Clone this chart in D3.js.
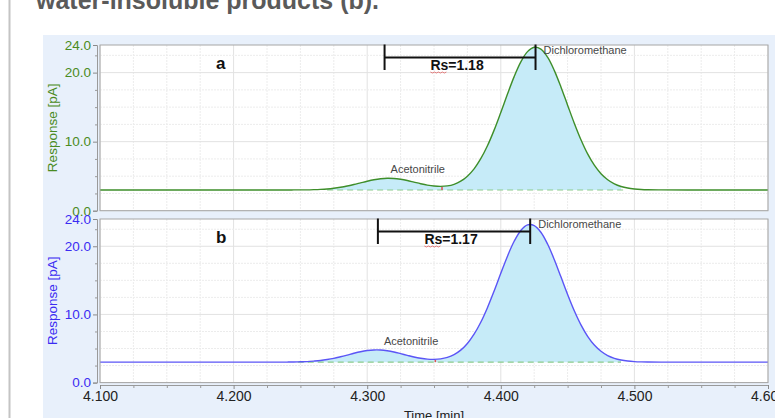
<!DOCTYPE html>
<html>
<head>
<meta charset="utf-8">
<script src="https://cdn.jsdelivr.net/npm/d3@7"></script>
<style>
  html, body { margin: 0; padding: 0; background: #ffffff; }
  svg { display: block; font-family: "Liberation Sans", Arial, sans-serif; }
</style>
</head>
<body>
<svg id="chart" width="775" height="418"></svg>
<script>
// Retention time axis (min)
const times = [
  4.100, 4.150, 4.200, 4.220,
  4.240, 4.245, 4.250, 4.255, 4.260, 4.265, 4.270, 4.275, 4.280, 4.285,
  4.290, 4.295, 4.300, 4.305, 4.310, 4.315, 4.320, 4.325, 4.330, 4.335,
  4.340, 4.345, 4.350, 4.355, 4.360, 4.365, 4.370, 4.375, 4.380, 4.385,
  4.390, 4.395, 4.400, 4.405, 4.410, 4.415, 4.420, 4.425, 4.430, 4.435,
  4.440, 4.445, 4.450, 4.455, 4.460, 4.465, 4.470, 4.475, 4.480, 4.485,
  4.490, 4.495, 4.500, 4.505, 4.510,
  4.520, 4.540, 4.570, 4.600
];

// Detector response, chromatogram a (pA)
const responseA = [
  3.00, 3.00, 3.00, 3.00,
  3.00, 3.01, 3.01, 3.02, 3.05, 3.09, 3.15, 3.25, 3.39, 3.57,
  3.79, 4.03, 4.27, 4.48, 4.63, 4.70, 4.67, 4.55, 4.37, 4.14,
  3.91, 3.71, 3.57, 3.52, 3.59, 3.82, 4.27, 5.00, 6.06, 7.53,
  9.40, 11.67, 14.23, 16.89, 19.42, 21.55, 23.04, 23.68, 23.40, 22.24,
  20.33, 17.93, 15.29, 12.67, 10.27, 8.22, 6.59, 5.35, 4.48, 3.89,
  3.51, 3.28, 3.15, 3.07, 3.03,
  3.01, 3.00, 3.00, 3.00
];

// Detector response, chromatogram b (pA)
const responseB = [
  3.00, 3.00, 3.00, 3.00,
  3.01, 3.02, 3.05, 3.08, 3.15, 3.24, 3.38, 3.56, 3.79, 4.04,
  4.30, 4.53, 4.70, 4.79, 4.78, 4.67, 4.49, 4.25, 4.00, 3.76,
  3.57, 3.44, 3.41, 3.48, 3.70, 4.11, 4.77, 5.74, 7.10, 8.85,
  10.99, 13.44, 16.03, 18.55, 20.73, 22.32, 23.13, 23.04, 22.06, 20.33,
  18.07, 15.51, 12.93, 10.54, 8.47, 6.79, 5.51, 4.59, 3.96, 3.56,
  3.31, 3.16, 3.08, 3.04, 3.02,
  3.00, 3.00, 3.00, 3.00
];

const peakNames = ["Acetonitrile", "Dichloromethane"];
const retentionA = [4.313, 4.426];
const retentionB = [4.308, 4.422];
const resolutionA = 1.18;
const resolutionB = 1.17;
const baselineA = 3.0;
const baselineB = 3.0;
const integrationA = [4.270, 4.493];
const integrationB = [4.248, 4.490];
const valleyA = 4.356;
const valleyB = 4.351;

const xTickValues = [4.1, 4.2, 4.3, 4.4, 4.5, 4.6];
const yTickValues = [0, 10, 20, 24];

const svg = d3.select("#chart");
const W = 775, H = 418;

// page frame and report title
svg.append("rect").attr("x", 0).attr("y", 0).attr("width", W).attr("height", H).attr("fill", "#ffffff");
svg.append("line").attr("x1", 9.5).attr("x2", 9.5).attr("y1", 0).attr("y2", H)
  .attr("stroke", "#c4c4c4").attr("stroke-width", 2);
svg.append("text").attr("x", 36).attr("y", 9)
  .attr("font-size", 25).attr("font-weight", "bold").attr("fill", "#5a5a5a")
  .text("water-insoluble products (b).");

// chart window background
svg.append("rect").attr("x", 43).attr("y", 35).attr("width", W - 43).attr("height", H - 35)
  .attr("fill", "#e8f0fb");

const plotLeft = 100, plotRight = 768;
const x = d3.scaleLinear().domain([4.1, 4.6]).range([plotLeft, plotRight]);

const panels = [
  { key: "a", values: responseA, rt: retentionA, rs: resolutionA, base: baselineA,
    integ: integrationA, valley: valleyA, top: 45, bottom: 210.7,
    line: "#3e8e2a", label: "#4a8b22" },
  { key: "b", values: responseB, rt: retentionB, rs: resolutionB, base: baselineB,
    integ: integrationB, valley: valleyB, top: 219, bottom: 382.6,
    line: "#5b55f6", label: "#3b2cf2" }
];

const fmt = d3.format(".1f");
const minorY = d3.range(0, 24.01, 2.5);
const minorX = d3.range(4.1, 4.6001, 0.025);

panels.forEach((p, i) => {
  const y = d3.scaleLinear().domain([0, 24]).range([p.bottom, p.top]);
  const g = svg.append("g");
  const pts = times.map((t, k) => ({ t, v: p.values[k] }));

  // plot area
  g.append("rect").attr("x", plotLeft).attr("y", p.top)
    .attr("width", plotRight - plotLeft).attr("height", p.bottom - p.top)
    .attr("fill", "#ffffff");

  // grid
  g.append("g").selectAll("line").data(minorX).join("line")
    .attr("x1", d => x(d)).attr("x2", d => x(d))
    .attr("y1", p.top).attr("y2", p.bottom)
    .attr("stroke", (d, k) => k % 4 === 0 ? "#e2e2e2" : "#ececec")
    .attr("stroke-dasharray", (d, k) => k % 4 === 0 ? null : "2,1");
  g.append("g").selectAll("line").data(minorY).join("line")
    .attr("x1", plotLeft).attr("x2", plotRight)
    .attr("y1", d => y(d)).attr("y2", d => y(d))
    .attr("stroke", d => d % 10 === 0 ? "#e2e2e2" : "#ececec")
    .attr("stroke-dasharray", d => d % 10 === 0 ? null : "2,1");

  // integrated peak area
  const inArea = pts.filter(d => d.t >= p.integ[0] - 1e-9 && d.t <= p.integ[1] + 1e-9);
  const area = d3.area().x(d => x(d.t)).y0(y(p.base)).y1(d => y(d.v)).curve(d3.curveCatmullRom);
  g.append("path").datum(inArea).attr("d", area).attr("fill", "#c6ebf8");

  // baseline of integration
  g.append("line").attr("x1", x(p.integ[0])).attr("x2", x(p.integ[1]))
    .attr("y1", y(p.base)).attr("y2", y(p.base))
    .attr("stroke", "#8ccc8c").attr("stroke-width", 1.2).attr("stroke-dasharray", "6,4");

  // peak split marker
  const vIdx = d3.bisectLeft(times, p.valley);
  g.append("line").attr("x1", x(p.valley)).attr("x2", x(p.valley))
    .attr("y1", y(p.base)).attr("y2", y(p.values[vIdx]) + 1)
    .attr("stroke", "#e05050").attr("stroke-width", 1.5);

  // trace
  const line = d3.line().x(d => x(d.t)).y(d => y(d.v)).curve(d3.curveCatmullRom);
  g.append("path").datum(pts).attr("d", line)
    .attr("fill", "none").attr("stroke", p.line).attr("stroke-width", 1.4);

  // frame
  g.append("rect").attr("x", plotLeft).attr("y", p.top)
    .attr("width", plotRight - plotLeft).attr("height", p.bottom - p.top)
    .attr("fill", "none").attr("stroke", "#a6a6a6").attr("stroke-width", 1);

  // y axis
  const yAxis = g.append("g").attr("transform", `translate(${plotLeft - 3},0)`)
    .call(d3.axisLeft(y).tickValues(yTickValues).tickFormat(fmt).tickSize(4).tickPadding(2));
  yAxis.select(".domain").attr("stroke", "#9a9a9a");
  yAxis.selectAll(".tick line").attr("stroke", "#8a8a8a");
  yAxis.selectAll("text").attr("fill", p.label).attr("font-size", 13.5)
    .attr("font-family", "Liberation Sans, Arial, sans-serif");
  const yMinor = g.append("g").attr("transform", `translate(${plotLeft - 3},0)`)
    .call(d3.axisLeft(y).tickValues(minorY.filter(v => v % 10 !== 0)).tickFormat("").tickSize(2));
  yMinor.select(".domain").remove();
  yMinor.selectAll(".tick line").attr("stroke", "#9a9a9a");

  // axis title
  g.append("text")
    .attr("transform", `translate(57,${(p.top + p.bottom) / 2}) rotate(-90)`)
    .attr("text-anchor", "middle").attr("font-size", 13.5).attr("fill", p.label)
    .text("Response [pA]");

  // panel letter
  g.append("text").attr("x", x(4.1) + 116).attr("y", p.top + 24)
    .attr("font-size", 17).attr("font-weight", "bold").attr("fill", "#111")
    .text(p.key);

  // peak names
  g.append("text").attr("x", x(p.rt[0]) + 6).attr("y", y(d3.max(pts.filter(d => d.t < p.valley), d => d.v)) - 5)
    .attr("font-size", 11).attr("fill", "#474747").text(peakNames[0]);
  g.append("text").attr("x", x(p.rt[1]) + 8).attr("y", p.top + 9)
    .attr("font-size", 11).attr("fill", "#474747").text(peakNames[1]);

  // resolution bar
  const barY = p.top + 12.5;
  const bar = g.append("g").attr("stroke", "#111").attr("stroke-width", 2);
  bar.append("line").attr("x1", x(p.rt[0])).attr("x2", x(p.rt[1])).attr("y1", barY).attr("y2", barY);
  p.rt.forEach(t => bar.append("line").attr("x1", x(t)).attr("x2", x(t))
    .attr("y1", p.top - 0.5).attr("y2", p.top + 25));
  const mid = (x(p.rt[0]) + x(p.rt[1])) / 2;
  const rsText = g.append("text").attr("x", mid - 3).attr("y", p.top + 24.5)
    .attr("text-anchor", "middle").attr("font-size", 14).attr("font-weight", "bold").attr("fill", "#111")
    .text("Rs=" + p.rs.toFixed(2));
  // spell-check underline under "Rs"
  const bb = rsText.node().getBBox();
  const wave = d3.range(0, 17, 2).map((d, k) => [bb.x + d, p.top + 27 + (k % 2 ? 1 : 0)]);
  g.append("path").attr("d", d3.line()(wave)).attr("fill", "none")
    .attr("stroke", "#e06060").attr("stroke-width", 0.8);
});

// time axis
const xAxis = svg.append("g").attr("transform", "translate(0,385)")
  .call(d3.axisBottom(x).tickValues(xTickValues).tickFormat(d3.format(".3f")).tickSize(4).tickPadding(2));
xAxis.select(".domain").attr("stroke", "#9a9a9a");
xAxis.selectAll(".tick line").attr("stroke", "#8a8a8a");
xAxis.selectAll("text").attr("fill", "#222").attr("font-size", 14)
  .attr("font-family", "Liberation Sans, Arial, sans-serif");
const xMinor = svg.append("g").attr("transform", "translate(0,385)")
  .call(d3.axisBottom(x).tickValues(minorX.filter((d, k) => k % 4 !== 0)).tickFormat("").tickSize(3));
xMinor.select(".domain").remove();
xMinor.selectAll(".tick line").attr("stroke", "#9a9a9a");

svg.append("text").attr("x", (plotLeft + plotRight) / 2).attr("y", 420)
  .attr("text-anchor", "middle").attr("font-size", 13).attr("fill", "#222")
  .text("Time [min]");
</script>
</body>
</html>
